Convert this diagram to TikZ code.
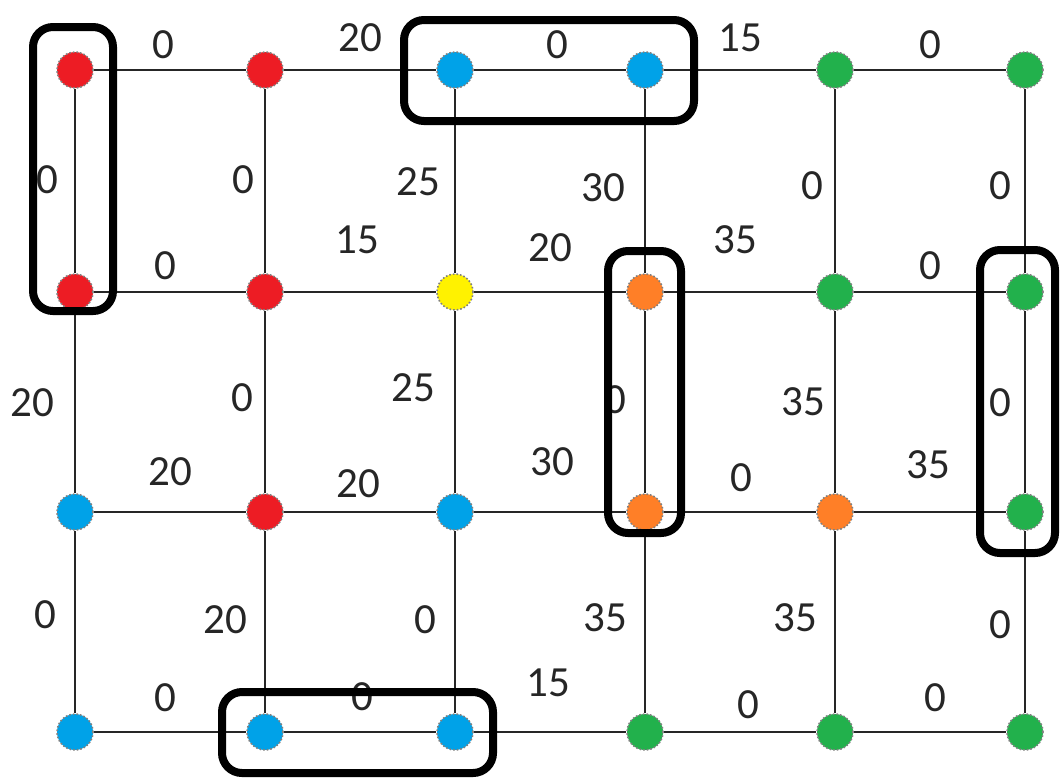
\documentclass[tikz,border=0pt]{standalone}
\usepackage{fontspec}
\setmainfont{Carlito}
\definecolor{vred}{HTML}{ED1C24}
\definecolor{vblue}{HTML}{00A2E8}
\definecolor{vyellow}{HTML}{FFF200}
\definecolor{vorange}{HTML}{FF7F27}
\definecolor{vgreen}{HTML}{22B14C}
\begin{document}
\begin{tikzpicture}[x=0.5pt,y=-0.5pt,
  vtx/.style={circle,inner sep=0pt,minimum size=18pt,fill=#1,
    draw=black!50,densely dotted,line width=0.8pt},
  edge/.style={draw=black!85,line width=1.2pt},
  wt/.style={font=\fontsize{21.5}{24}\selectfont,inner sep=0pt,text=black!85},
  group/.style={draw=black,line width=4pt,rounded corners=10pt}]
\useasboundingbox (0,0) rectangle (1060,778);

% vertices: n<column><row>
\node[vtx=vred]    (n11) at (75,70) {};
\node[vtx=vred]    (n21) at (265,70) {};
\node[vtx=vblue]   (n31) at (455,70) {};
\node[vtx=vblue]   (n41) at (645,70) {};
\node[vtx=vgreen]  (n51) at (835,70) {};
\node[vtx=vgreen]  (n61) at (1025,70) {};
\node[vtx=vred]    (n12) at (75,292) {};
\node[vtx=vred]    (n22) at (265,292) {};
\node[vtx=vyellow] (n32) at (455,292) {};
\node[vtx=vorange] (n42) at (645,292) {};
\node[vtx=vgreen]  (n52) at (835,292) {};
\node[vtx=vgreen]  (n62) at (1025,292) {};
\node[vtx=vblue]   (n13) at (75,512) {};
\node[vtx=vred]    (n23) at (265,512) {};
\node[vtx=vblue]   (n33) at (455,512) {};
\node[vtx=vorange] (n43) at (645,512) {};
\node[vtx=vorange] (n53) at (835,512) {};
\node[vtx=vgreen]  (n63) at (1025,512) {};
\node[vtx=vblue]   (n14) at (75,732) {};
\node[vtx=vblue]   (n24) at (265,732) {};
\node[vtx=vblue]   (n34) at (455,732) {};
\node[vtx=vgreen]  (n44) at (645,732) {};
\node[vtx=vgreen]  (n54) at (835,732) {};
\node[vtx=vgreen]  (n64) at (1025,732) {};

% grid edges
\foreach \r in {1,2,3,4}
  \foreach \a/\b in {1/2,2/3,3/4,4/5,5/6}
    \draw[edge] (n\a\r) -- (n\b\r);
\foreach \c in {1,...,6}
  \foreach \a/\b in {1/2,2/3,3/4}
    \draw[edge] (n\c\a) -- (n\c\b);

% edge weights
\node[wt] (w1)  at (163,45)  {0};
\node[wt] (w2)  at (360,38)  {20};
\node[wt] (w3)  at (557,45)  {0};
\node[wt] (w4)  at (740,38)  {15};
\node[wt] (w5)  at (930,45)  {0};
\node[wt] (w6)  at (47,180)  {0};
\node[wt] (w7)  at (243,180) {0};
\node[wt] (w8)  at (418,182) {25};
\node[wt] (w9)  at (603,188) {30};
\node[wt] (w10) at (812,186) {0};
\node[wt] (w11) at (1000,186) {0};
\node[wt] (w12) at (165,266) {0};
\node[wt] (w13) at (357,240) {15};
\node[wt] (w14) at (550,248) {20};
\node[wt] (w15) at (735,240) {35};
\node[wt] (w16) at (930,266) {0};
\node[wt] (w17) at (32,403)  {20};
\node[wt] (w18) at (242,398) {0};
\node[wt] (w19) at (413,388) {25};
\node[wt] (w20) at (615,400) {0};
\node[wt] (w21) at (803,402) {35};
\node[wt] (w22) at (1000,403) {0};
\node[wt] (w23) at (170,472) {20};
\node[wt] (w24) at (358,484) {20};
\node[wt] (w25) at (552,462) {30};
\node[wt] (w26) at (741,478) {0};
\node[wt] (w27) at (928,465) {35};
\node[wt] (w28) at (45,615)  {0};
\node[wt] (w29) at (225,620) {20};
\node[wt] (w30) at (425,620) {0};
\node[wt] (w31) at (605,618) {35};
\node[wt] (w32) at (795,618) {35};
\node[wt] (w33) at (1000,625) {0};
\node[wt] (w34) at (165,698) {0};
\node[wt] (w35) at (362,697) {0};
\node[wt] (w36) at (548,683) {15};
\node[wt] (w37) at (748,705) {0};
\node[wt] (w38) at (935,698) {0};

% highlighted groups
\draw[group] (33,27) rectangle (113,311);
\draw[group] (404,20) rectangle (694,121);
\draw[group] (608,251) rectangle (681,533);
\draw[group] (980,250) rectangle (1055,553);
\draw[group] (222,692) rectangle (493,773);
\end{tikzpicture}
\end{document}
